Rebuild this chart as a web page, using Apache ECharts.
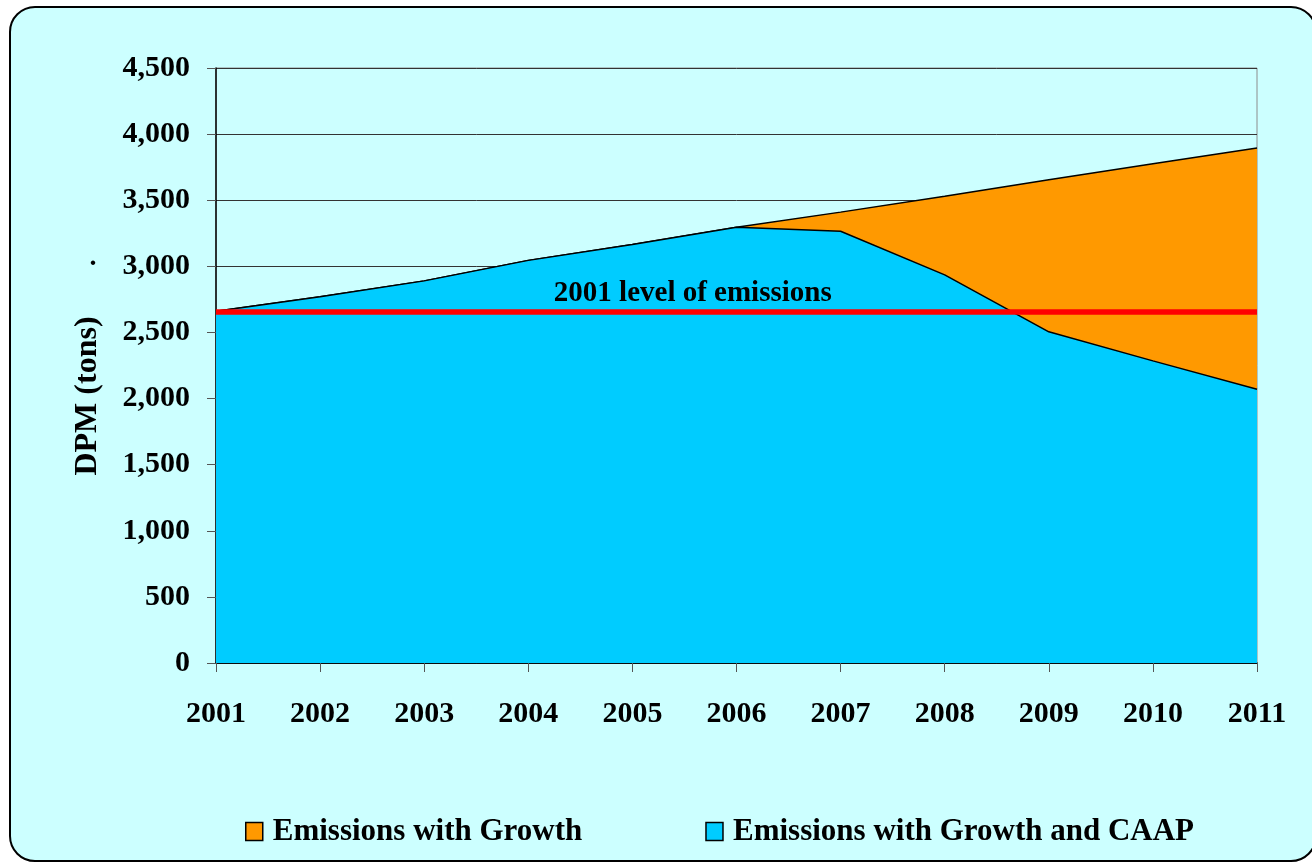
<!DOCTYPE html>
<html>
<head>
<meta charset="utf-8">
<script src="https://cdn.jsdelivr.net/npm/echarts@6/dist/echarts.min.js"></script>
<style>
  html, body { margin: 0; padding: 0; background: #ffffff; }
  #chart { width: 1312px; height: 864px; }
</style>
</head>
<body>
<div id="chart"></div>
<script>
// Diesel particulate matter emissions, 2001-2011
const years = ['2001', '2002', '2003', '2004', '2005', '2006', '2007', '2008', '2009', '2010', '2011'];
const withGrowth = [2660, 2770, 2890, 3045, 3165, 3295, 3410, 3530, 3655, 3775, 3895];
const withGrowthCAAP = [2660, 2770, 2890, 3045, 3165, 3295, 3265, 2935, 2505, 2285, 2070];
const level2001 = 2655;
const yTicks = [0, 500, 1000, 1500, 2000, 2500, 3000, 3500, 4000, 4500];

const FONT = "'Liberation Serif', 'DejaVu Serif', serif";
const chart = echarts.init(document.getElementById('chart'));

const panel = {
  type: 'rect', z: -10, silent: true,
  shape: { x: 10, y: 7, width: 1306, height: 854, r: 25 },
  style: { fill: '#CCFFFF', stroke: '#000000', lineWidth: 2 }
};
const yTitle = {
  type: 'text', z: 10, x: 88, y: 396, rotation: Math.PI / 2,
  style: {
    text: 'DPM (tons)', font: 'bold 32px ' + FONT, fill: '#000',
    textAlign: 'center', textVerticalAlign: 'middle'
  }
};
const stray = {
  type: 'text', z: 10, x: 93, y: 258,
  style: { text: '.', font: 'bold 28px ' + FONT, fill: '#000', textAlign: 'center', textVerticalAlign: 'middle' }
};

const option = {
  backgroundColor: '#ffffff',
  animation: false,
  graphic: [panel, yTitle, stray],
  grid: {
    left: 216, right: 55, top: 68, bottom: 201,
    show: true, borderColor: '#8c8c8c', borderWidth: 1, backgroundColor: 'transparent'
  },
  legend: {
    left: 240, top: 811,
    itemWidth: 17, itemHeight: 18, itemGap: 123,
    icon: 'rect',
    textStyle: { fontFamily: FONT, fontWeight: 'bold', fontSize: 31, color: '#000', padding: [0, 0, 0, 5] },
    data: [
      { name: 'Emissions with Growth', itemStyle: { color: '#FF9900', borderColor: '#000', borderWidth: 1.5 } },
      { name: 'Emissions with Growth and CAAP', itemStyle: { color: '#00CCFF', borderColor: '#000', borderWidth: 1.5 } }
    ]
  },
  xAxis: {
    type: 'category',
    data: years,
    boundaryGap: false,
    axisLine: { lineStyle: { color: '#000', width: 1.5 } },
    axisTick: { show: true, length: 9, lineStyle: { color: '#555' } },
    axisLabel: { fontFamily: FONT, fontWeight: 'bold', fontSize: 30, color: '#000', margin: 36 }
  },
  yAxis: {
    type: 'value',
    min: 0, max: 4500, interval: 500,
    axisLine: { show: true, lineStyle: { color: '#000', width: 1.5 } },
    axisTick: { show: true, length: 9, lineStyle: { color: '#555' } },
    splitLine: { show: true, lineStyle: { color: '#333', width: 1 } },
    axisLabel: {
      fontFamily: FONT, fontWeight: 'bold', fontSize: 30, color: '#000', margin: 26,
      formatter: v => yTicks.includes(v) ? v.toLocaleString('en-US') : ''
    }
  },
  series: [
    {
      name: 'Emissions with Growth',
      type: 'line',
      data: withGrowth,
      showSymbol: false,
      symbol: 'none',
      lineStyle: { color: '#000', width: 1.5 },
      itemStyle: { color: '#FF9900' },
      areaStyle: { color: '#FF9900', opacity: 1 },
      z: 2
    },
    {
      name: 'Emissions with Growth and CAAP',
      type: 'line',
      data: withGrowthCAAP,
      showSymbol: false,
      symbol: 'none',
      lineStyle: { color: '#000', width: 1.5 },
      itemStyle: { color: '#00CCFF' },
      areaStyle: { color: '#00CCFF', opacity: 1 },
      z: 3,
      markLine: {
        silent: true,
        symbol: 'none',
        label: { show: false },
        lineStyle: { color: '#FF0000', width: 5.5, type: 'solid' },
        data: [{ yAxis: level2001 }]
      }
    }
  ]
};

chart.setOption(option);

// Caption for the 2001 reference level, placed just above the red line,
// a little past the 2005 tick (between the 2005 and 2006 positions)
const p2005 = chart.convertToPixel({ xAxisIndex: 0, yAxisIndex: 0 }, [4, level2001]);
const p2006 = chart.convertToPixel({ xAxisIndex: 0, yAxisIndex: 0 }, [5, level2001]);
const captionX = p2005[0] + 0.58 * (p2006[0] - p2005[0]);
chart.setOption({
  graphic: [
    panel, yTitle, stray,
    {
      type: 'text', z: 10,
      x: captionX, y: p2005[1] - 4,
      style: {
        text: '2001 level of emissions',
        font: 'bold 29px ' + FONT,
        fill: '#000',
        textAlign: 'center',
        textVerticalAlign: 'bottom'
      }
    }
  ]
});
</script>
</body>
</html>
